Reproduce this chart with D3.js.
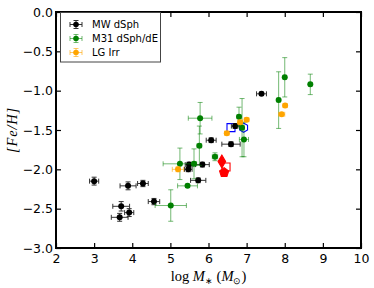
<!DOCTYPE html>
<html lang="en">
<head>
<meta charset="UTF-8">
<title>Fe/H vs stellar mass</title>
<script src="https://cdn.jsdelivr.net/npm/d3@7"></script>
<style>
  body { margin: 0; background: #fff; }
  svg { display: block; }
  .tick text { font-family: "DejaVu Sans", sans-serif; font-size: 12.5px; fill: #000; }
</style>
</head>
<body>
<script>
// [logM, FeH, xerr, yerr]
const mwDsph = [
  [3.00, -2.15, 0.12, 0.05],
  [3.89, -2.21, 0.21, 0.05],
  [4.28, -2.18, 0.14, 0.04],
  [3.71, -2.47, 0.22, 0.06],
  [3.92, -2.55, 0.12, 0.05],
  [3.67, -2.61, 0.22, 0.05],
  [4.57, -2.41, 0.15, 0.04],
  [5.47, -2.00, 0.10, 0.03],
  [5.49, -1.94, 0.10, 0.03],
  [5.84, -1.94, 0.18, 0.03],
  [5.73, -2.14, 0.20, 0.03],
  [6.07, -1.63, 0.13, 0.03],
  [6.59, -1.68, 0.24, 0.03],
  [6.70, -1.45, 0.10, 0.03],
  [7.39, -1.04, 0.13, 0.02]
];
const m31Dsph = [
  [5.78, -1.35, 0.31, 0.20],
  [5.76, -1.70, 0.06, 0.25],
  [5.25, -1.93, 0.44, 0.20],
  [5.62, -1.93, 0.05, 0.19],
  [5.45, -2.21, 0.26, 0.02],
  [5.01, -2.46, 0.41, 0.20],
  [6.17, -1.84, 0.07, 0.05],
  [6.80, -1.33, 0.05, 0.12],
  [6.88, -1.47, 0.05, 0.37],
  [6.93, -1.62, 0.12, 0.22],
  [7.84, -1.12, 0.04, 0.36],
  [8.00, -0.83, 0.04, 0.25],
  [8.67, -0.92, 0.04, 0.13]
];
const lgIrr = [
  [5.20, -2.00, 0.15, 0.03],
  [6.48, -1.54, 0.06, 0.02],
  [6.83, -1.40, 0.06, 0.02],
  [7.00, -1.37, 0.06, 0.02],
  [7.92, -1.30, 0.08, 0.02],
  [8.01, -1.19, 0.05, 0.02]
];
// special objects: [logM, FeH, shape, filled]
const blueObjs = [
  [6.59, -1.47, "square", false],
  [6.92, -1.47, "hexagon", false]
];
const redObjs = [
  [6.35, -1.90, "diamond", true],
  [6.46, -1.97, "square", false],
  [6.41, -2.04, "pentagon", true]
];
const xTicks = [2, 3, 4, 5, 6, 7, 8, 9, 10];
const yTicks = [0, -0.5, -1, -1.5, -2, -2.5, -3];
const seriesNames = ["MW dSph", "M31 dSph/dE", "LG Irr"];

const W = 374, H = 288;
const m = { left: 56, right: 13, top: 12, bottom: 40 };

const svg = d3.select("body").append("svg")
  .attr("width", W).attr("height", H);

const x = d3.scaleLinear().domain([2, 10]).range([m.left, W - m.right]);
const y = d3.scaleLinear().domain([-3, 0]).range([H - m.bottom, m.top]);

const fmtY = d3.format(".1f");

// axes, ticks pointing inward
svg.append("g")
  .attr("transform", `translate(0,${y(-3)})`)
  .call(d3.axisBottom(x).tickValues(xTicks).tickSizeInner(-5).tickSizeOuter(0).tickPadding(6).tickFormat(d3.format("d")));
svg.append("g")
  .attr("transform", `translate(0,${y(0)})`)
  .call(d3.axisTop(x).tickValues(xTicks).tickSizeInner(-5).tickSizeOuter(0).tickFormat(""));
svg.append("g")
  .attr("transform", `translate(${x(2)},0)`)
  .call(d3.axisLeft(y).tickValues(yTicks).tickSizeInner(-5).tickSizeOuter(0).tickPadding(3).tickFormat(fmtY));
svg.append("g")
  .attr("transform", `translate(${x(10)},0)`)
  .call(d3.axisRight(y).tickValues(yTicks).tickSizeInner(-5).tickSizeOuter(0).tickFormat(""));

svg.selectAll(".domain").remove();
svg.selectAll(".tick line").attr("stroke", "#000").attr("stroke-width", 1.2);

// frame
svg.append("rect")
  .attr("x", x(2)).attr("y", y(0))
  .attr("width", x(10) - x(2)).attr("height", y(-3) - y(0))
  .attr("fill", "none").attr("stroke", "#000").attr("stroke-width", 2);

function shapePath(shape) {
  if (shape === "square") return "M-4,-4H4V4H-4Z";
  if (shape === "diamond") return "M0,-6.5L3.8,0L0,6.5L-3.8,0Z";
  const n = shape === "hexagon" ? 6 : 5;
  const r = shape === "hexagon" ? 4.6 : 4.8;
  const pts = d3.range(n).map(i => {
    const a = -Math.PI / 2 + i * 2 * Math.PI / n;
    return [r * Math.cos(a), r * Math.sin(a)];
  });
  return "M" + pts.map(p => p.join(",")).join("L") + "Z";
}

function specials(data, color) {
  svg.append("g").selectAll("path").data(data).join("path")
    .attr("transform", d => `translate(${x(d[0])},${y(d[1])})`)
    .attr("d", d => shapePath(d[2]))
    .attr("fill", d => d[3] ? color : "none")
    .attr("stroke", color).attr("stroke-width", 1.1);
}

function errorSeries(data, color, barColor) {
  const g = svg.append("g");
  const cap = 2.5;
  data.forEach(d => {
    const cx = x(d[0]), cy = y(d[1]);
    const x0 = x(d[0] - d[2]), x1 = x(d[0] + d[2]);
    const y0 = y(d[1] - d[3]), y1 = y(d[1] + d[3]);
    const eb = g.append("g").attr("stroke", barColor).attr("stroke-width", 1);
    eb.append("line").attr("x1", x0).attr("x2", x1).attr("y1", cy).attr("y2", cy);
    eb.append("line").attr("x1", x0).attr("x2", x0).attr("y1", cy - cap).attr("y2", cy + cap);
    eb.append("line").attr("x1", x1).attr("x2", x1).attr("y1", cy - cap).attr("y2", cy + cap);
    eb.append("line").attr("x1", cx).attr("x2", cx).attr("y1", y0).attr("y2", y1);
    eb.append("line").attr("x1", cx - cap).attr("x2", cx + cap).attr("y1", y0).attr("y2", y0);
    eb.append("line").attr("x1", cx - cap).attr("x2", cx + cap).attr("y1", y1).attr("y2", y1);
  });
  g.selectAll("circle").data(data).join("circle")
    .attr("cx", d => x(d[0])).attr("cy", d => y(d[1]))
    .attr("r", 3).attr("fill", color);
}

specials(blueObjs, "#0000ff");
errorSeries(mwDsph, "#000", "#333");
errorSeries(m31Dsph, "#008000", "rgba(0,128,0,0.55)");
errorSeries(lgIrr, "#ffa500", "rgba(255,165,0,0.6)");
specials(redObjs, "#ff0000");

// legend
const leg = svg.append("g");
leg.append("rect")
  .attr("x", 60.5).attr("y", 12.5).attr("width", 100).attr("height", 49.5)
  .attr("fill", "#fff").attr("stroke", "#444").attr("stroke-width", 1);
const legColors = [["#000", "#333"], ["#008000", "rgba(0,128,0,0.55)"], ["#ffa500", "rgba(255,165,0,0.6)"]];
seriesNames.forEach((name, i) => {
  const ly = 24.5 + i * 14;
  const lx = 76;
  const e = leg.append("g").attr("stroke", legColors[i][1]).attr("stroke-width", 1);
  e.append("line").attr("x1", lx - 6).attr("x2", lx + 6).attr("y1", ly).attr("y2", ly);
  e.append("line").attr("x1", lx - 6).attr("x2", lx - 6).attr("y1", ly - 2.5).attr("y2", ly + 2.5);
  e.append("line").attr("x1", lx + 6).attr("x2", lx + 6).attr("y1", ly - 2.5).attr("y2", ly + 2.5);
  e.append("line").attr("x1", lx).attr("x2", lx).attr("y1", ly - 4).attr("y2", ly + 4);
  e.append("line").attr("x1", lx - 2.5).attr("x2", lx + 2.5).attr("y1", ly - 4).attr("y2", ly - 4);
  e.append("line").attr("x1", lx - 2.5).attr("x2", lx + 2.5).attr("y1", ly + 4).attr("y2", ly + 4);
  leg.append("circle").attr("cx", lx).attr("cy", ly).attr("r", 2.8).attr("fill", legColors[i][0]);
  leg.append("text").attr("x", 92).attr("y", ly + 3.6)
    .attr("font-family", "DejaVu Sans, sans-serif").attr("font-size", 10)
    .text(name);
});

// axis labels
const xl = svg.append("text")
  .attr("x", (x(2) + x(10)) / 2).attr("y", 281)
  .attr("text-anchor", "middle")
  .attr("font-family", "Liberation Serif, serif").attr("font-size", 14.5);
xl.append("tspan").text("log ");
xl.append("tspan").attr("font-style", "italic").text("M");
xl.append("tspan").attr("font-size", 9).attr("dy", 3).text("∗");
xl.append("tspan").attr("dy", -3).text(" (");
xl.append("tspan").attr("font-style", "italic").text("M");
xl.append("tspan").attr("font-size", 9).attr("dy", 3).text("⊙");
xl.append("tspan").attr("dy", -3).text(")");

svg.append("text")
  .attr("transform", `translate(17,${(y(0) + y(-3)) / 2}) rotate(-90)`)
  .attr("text-anchor", "middle")
  .attr("font-family", "Liberation Serif, serif").attr("font-size", 14.5)
  .attr("font-style", "italic")
  .attr("letter-spacing", 0.8)
  .text("[Fe/H]");
</script>
</body>
</html>
